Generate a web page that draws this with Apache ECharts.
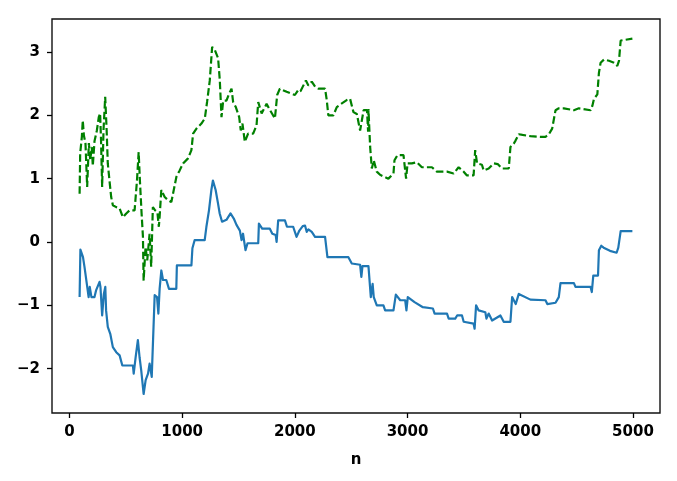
<!DOCTYPE html>
<html>
<head>
<meta charset="utf-8">
<script src="https://cdn.jsdelivr.net/npm/echarts@6/dist/echarts.min.js"></script>
<style>
html,body{margin:0;padding:0;background:#fff;}
#chart{width:677px;height:481px;}
</style>
</head>
<body>
<div id="chart"></div>
<script>
// tick values
const xTicks = [0, 1000, 2000, 3000, 4000, 5000];
const yTicks = [-2, -1, 0, 1, 2, 3];
const xName = 'n';

// solid blue series (n, value)
const blueN = [90,97,112,120,133,154,170,180,195,222,237,267,275,290,305,318,325,340,362,385,415,445,469,563,570,587,607,622,637,658,676,697,711,730,756,777,789,800,815,830,859,883,948,953,1082,1091,1111,1200,1215,1238,1259,1273,1297,1318,1333,1354,1393,1429,1458,1482,1512,1527,1540,1562,1580,1675,1681,1710,1778,1800,1830,1838,1852,1912,1930,1985,2015,2040,2070,2090,2105,2120,2150,2179,2268,2289,2475,2505,2579,2590,2600,2653,2674,2690,2700,2727,2786,2801,2875,2896,2935,2979,2990,3002,3062,3136,3225,3240,3350,3365,3423,3440,3483,3498,3586,3595,3608,3631,3690,3700,3720,3750,3824,3853,3913,3928,3960,3987,4090,4224,4240,4313,4342,4357,4476,4490,4624,4635,4648,4690,4698,4719,4740,4796,4855,4870,4891,4995];
const blueV = [-0.87,-0.12,-0.11,-0.24,-0.39,-0.66,-0.87,-0.71,-0.87,-0.87,-0.76,-0.63,-0.71,-1.16,-0.82,-0.71,-1.08,-1.34,-1.45,-1.66,-1.74,-1.79,-1.95,-1.95,-2.08,-1.82,-1.55,-1.82,-2.03,-2.40,-2.18,-2.08,-1.92,-2.13,-0.84,-0.87,-1.13,-0.74,-0.45,-0.60,-0.60,-0.74,-0.74,-0.37,-0.37,-0.10,0.03,0.03,0.24,0.50,0.82,0.97,0.82,0.61,0.45,0.32,0.35,0.45,0.37,0.27,0.18,0.03,0.13,-0.13,-0.02,-0.02,0.29,0.21,0.21,0.13,0.11,0.00,0.34,0.34,0.24,0.24,0.08,0.18,0.25,0.26,0.16,0.20,0.16,0.08,0.08,-0.24,-0.24,-0.34,-0.36,-0.55,-0.38,-0.38,-0.87,-0.66,-0.87,-1.00,-1.00,-1.08,-1.08,-0.83,-0.92,-0.92,-1.08,-0.87,-0.95,-1.03,-1.05,-1.13,-1.13,-1.21,-1.21,-1.16,-1.16,-1.26,-1.29,-1.37,-1.00,-1.08,-1.11,-1.21,-1.13,-1.24,-1.16,-1.26,-1.26,-0.87,-0.98,-0.82,-0.91,-0.92,-0.98,-0.96,-0.87,-0.65,-0.65,-0.71,-0.71,-0.79,-0.53,-0.53,-0.13,-0.06,-0.09,-0.14,-0.17,-0.09,0.17,0.17];

// dashed green series (n, value)
const greenN = [90,95,110,118,128,142,157,172,184,198,207,222,243,260,272,280,290,302,317,330,340,355,370,385,415,445,474,504,534,578,599,614,625,640,652,658,675,690,711,725,740,760,780,793,800,815,845,875,904,920,949,978,1008,1052,1082,1097,1127,1171,1201,1221,1245,1266,1290,1319,1334,1349,1364,1393,1416,1438,1452,1476,1506,1520,1535,1556,1585,1630,1660,1675,1705,1749,1780,1823,1843,1867,1927,1971,2000,2030,2050,2098,2120,2150,2180,2208,2268,2283,2297,2342,2372,2410,2460,2490,2520,2550,2579,2610,2640,2650,2653,2668,2683,2700,2727,2756,2830,2875,2884,2910,2964,2987,3000,3038,3082,3127,3216,3260,3350,3408,3453,3498,3527,3586,3600,3617,3660,3675,3720,3765,3800,3838,3898,3913,3942,3958,3987,4020,4090,4180,4224,4254,4283,4313,4342,4387,4476,4520,4624,4640,4654,4684,4698,4713,4743,4787,4832,4861,4876,4891,4995];
const greenV = [0.76,1.40,1.66,1.92,1.68,1.56,0.87,1.56,1.29,1.50,1.20,1.59,1.76,1.97,2.03,1.61,0.87,1.76,2.29,1.76,1.24,0.97,0.71,0.58,0.55,0.53,0.39,0.45,0.50,0.50,0.97,1.42,0.97,0.45,0.08,-0.61,-0.08,-0.29,0.13,-0.39,0.55,0.50,0.47,0.24,0.40,0.82,0.71,0.66,0.63,0.66,1.03,1.13,1.24,1.32,1.45,1.71,1.79,1.87,1.95,2.21,2.55,3.08,3.03,2.90,2.55,1.97,2.23,2.23,2.34,2.42,2.21,2.13,1.97,1.76,1.87,1.58,1.71,1.71,1.84,2.21,2.03,2.18,2.08,1.95,2.32,2.42,2.37,2.34,2.32,2.40,2.38,2.55,2.47,2.53,2.45,2.42,2.42,2.24,2.00,2.00,2.13,2.18,2.24,2.26,2.05,2.02,1.76,2.08,2.08,1.74,2.10,1.50,1.16,1.29,1.11,1.06,1.00,1.08,1.29,1.37,1.37,1.00,1.24,1.24,1.26,1.18,1.18,1.11,1.11,1.08,1.18,1.11,1.05,1.05,1.45,1.24,1.22,1.13,1.16,1.24,1.23,1.16,1.16,1.50,1.55,1.60,1.70,1.69,1.67,1.66,1.66,1.70,1.79,2.08,2.11,2.11,2.08,2.11,2.08,2.15,2.26,2.33,2.67,2.83,2.88,2.86,2.83,2.78,2.86,3.18,3.21];

const chart = echarts.init(document.getElementById('chart'), null, {renderer: 'canvas'});
const fmt = v => (v < 0 ? '\u2212' + Math.abs(v) : String(v));
const labelFont = {color: '#000', fontFamily: 'DejaVu Sans', fontSize: 15, fontWeight: 'bold'};

chart.setOption({
  animation: false,
  backgroundColor: '#fff',
  grid: {left: 52, right: 17, top: 19, bottom: 68, show: true, borderColor: '#111', borderWidth: 1.4, backgroundColor: 'transparent'},
  xAxis: {
    type: 'value', min: -155, max: 5240,
    name: xName, nameLocation: 'middle', nameGap: 40,
    nameTextStyle: {color: '#000', fontFamily: 'DejaVu Sans', fontSize: 15, fontWeight: 'bold'},
    axisLine: {show: false, onZero: false},
    splitLine: {show: false},
    axisTick: {show: true, length: 5, inside: false, customValues: xTicks, lineStyle: {color: '#000', width: 1.3}},
    axisLabel: Object.assign({customValues: xTicks, margin: 12, formatter: fmt}, labelFont)
  },
  yAxis: {
    type: 'value', min: -2.70, max: 3.52,
    axisLine: {show: false, onZero: false},
    splitLine: {show: false},
    axisTick: {show: true, length: 5, inside: false, customValues: yTicks, lineStyle: {color: '#000', width: 1.3}},
    axisLabel: Object.assign({customValues: yTicks, margin: 12, formatter: fmt}, labelFont)
  },
  series: [
    {
      type: 'line', showSymbol: false, symbol: 'none',
      data: blueN.map((n, i) => [n, blueV[i]]),
      lineStyle: {color: '#1f77b4', width: 2.2, join: 'round'},
      itemStyle: {color: '#1f77b4'}
    },
    {
      type: 'line', showSymbol: false, symbol: 'none',
      data: greenN.map((n, i) => [n, greenV[i]]),
      lineStyle: {color: '#008000', width: 2.2, type: [7.5, 3.2]},
      itemStyle: {color: '#008000'}
    }
  ]
});
</script>
</body>
</html>
